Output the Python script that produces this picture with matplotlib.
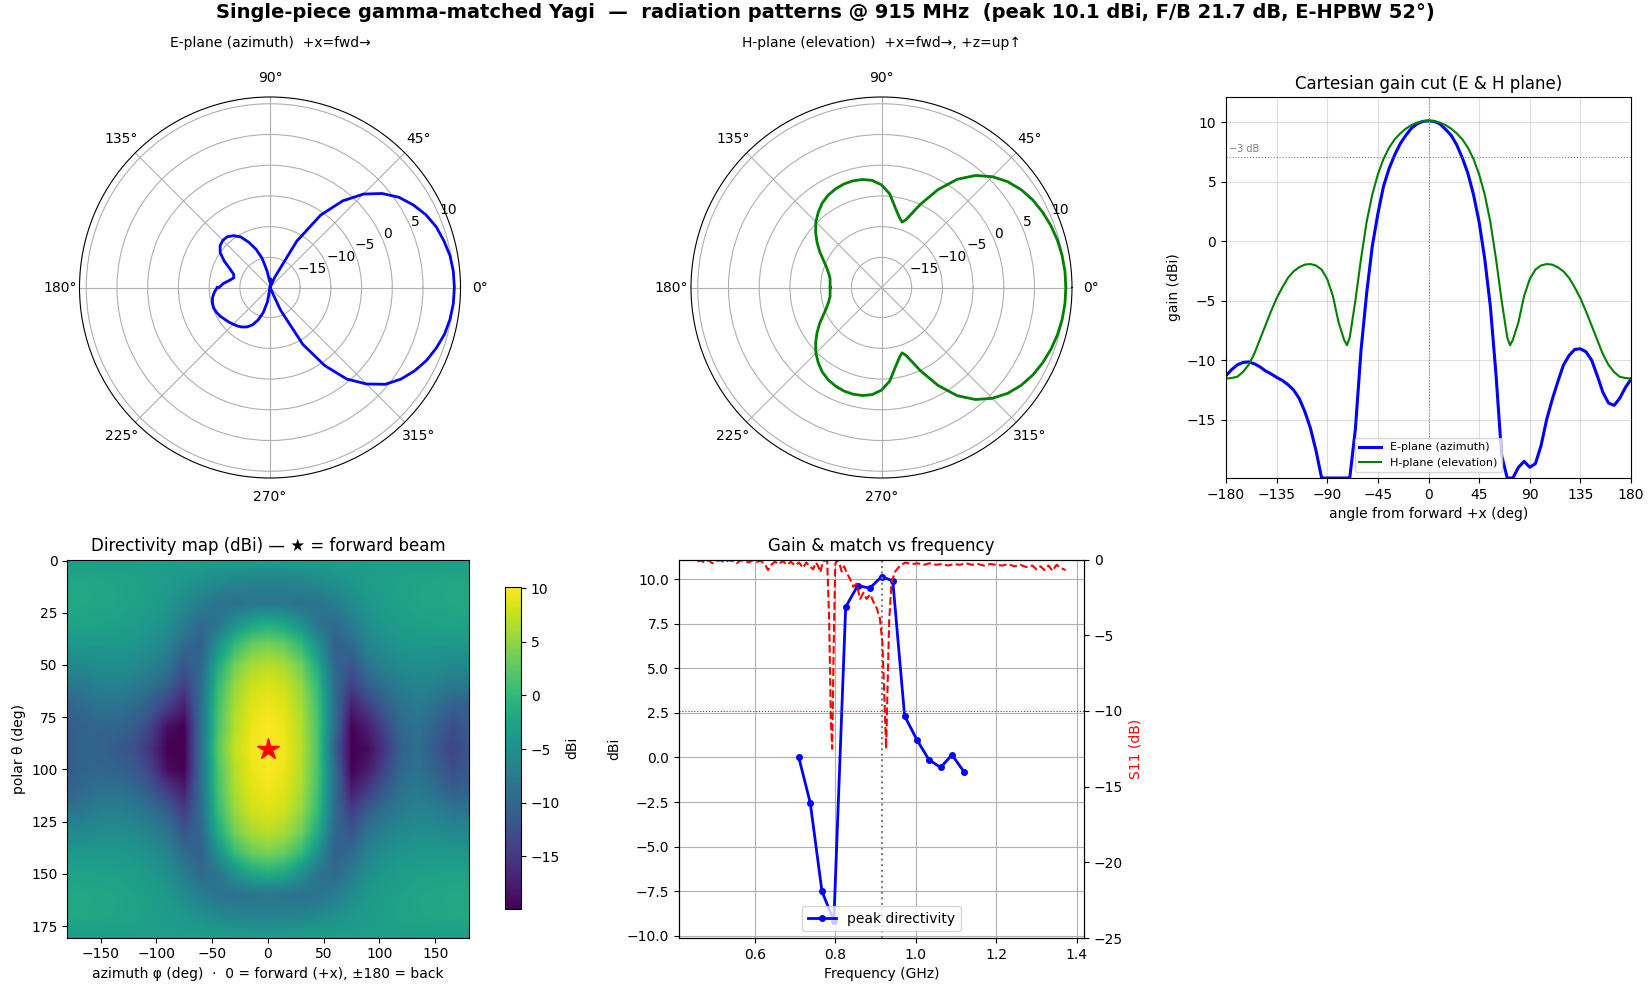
import numpy as np
import matplotlib
matplotlib.use("Agg")
import matplotlib.pyplot as plt

W, H = 1650, 990
PEAK = 10.1
FLOOR = PEAK - 30

# E-plane (azimuth) cut, -180..180 every 5 deg
e_ang = np.arange(-180, 181, 5)
e_gain = [-11.3, -10.8, -10.4, -10.2, -10.15, -10.3, -10.55, -10.9, -11.15, -11.45,
          -11.7, -12.05, -12.5, -13.2, -14.3, -15.7, -17.6, -19.9, -19.9, -19.9,
          -19.9, -19.9, -19.9, -15.8, -9.2, -4.4, -0.45, 2.3, 4.6, 6.1,
          7.25, 8.2, 8.9, 9.5, 9.85, 10.05, 10.1, 10.05, 9.85, 9.4,
          8.9, 8.1, 7.0, 5.7, 3.9, 1.6, -1.5, -5.5, -11.2, -18.0,
          -19.9, -19.9, -19.0, -18.5, -19.0, -18.7, -17.2, -15.0, -13.3, -11.8,
          -10.4, -9.6, -9.1, -9.05, -9.3, -10.0, -11.3, -12.7, -13.6, -13.8,
          -13.2, -12.3, -11.6]

# H-plane (elevation) cut, symmetric; 0..180 deg half
h_ang_half = [0, 5, 10, 15, 20, 25, 30, 35, 40, 45, 50, 55, 60, 65, 70, 72.5,
              75, 80, 85, 90, 95, 100, 105, 110, 115, 120, 125, 130, 135, 140,
              145, 150, 155, 160, 165, 170, 175, 180]
h_gain_half = [10.1, 10.07, 9.95, 9.75, 9.45, 9.05, 8.55, 7.85, 6.9, 5.6, 3.9, 1.6,
               -1.5, -5.0, -8.1, -8.75, -8.3, -6.8, -4.6, -3.2, -2.4, -2.05, -1.93,
               -1.98, -2.2, -2.55, -3.1, -3.9, -4.8, -5.9, -7.1, -8.3, -9.5, -10.4,
               -11.0, -11.4, -11.5, -11.55]

# directivity map, theta 0..90 every 10 deg (lower half mirrors), phi -180..180 every 15 deg
map_phi = np.arange(-180, 181, 15)
map_theta = np.arange(0, 181, 10)
map_upper = [
    [-3.2] * 25,
    [-2.05, -2.08, -2.2, -2.35, -2.55, -3.0, -3.4, -4.1, -4.75, -5.6, -6.25, -6.7, -6.8,
     -6.7, -6.25, -5.6, -4.75, -4.1, -3.4, -3.0, -2.55, -2.35, -2.2, -2.08, -2.05],
    [-1.98, -2.02, -2.14, -2.33, -2.64, -3.1, -3.98, -5.35, -7.33, -8.46, -8.9, -8.35, -8.1,
     -8.35, -8.9, -8.46, -7.33, -5.35, -3.98, -3.1, -2.64, -2.33, -2.14, -2.02, -1.98],
    [-2.55, -2.59, -2.71, -2.85, -3.21, -3.87, -4.96, -7.3, -9.5, -8.47, -4.96, -2.37, -1.5,
     -2.37, -4.96, -8.47, -9.5, -7.3, -4.96, -3.87, -3.21, -2.85, -2.71, -2.59, -2.55],
    [-3.9, -3.86, -3.77, -3.8, -4.2, -5.0, -6.3, -9.5, -10.7, -4.95, 0.21, 3.0, 3.9,
     3.0, 0.21, -4.95, -10.7, -9.5, -6.3, -5.0, -4.2, -3.8, -3.77, -3.86, -3.9],
    [-5.9, -5.73, -5.23, -5.05, -5.55, -6.6, -8.3, -11.85, -9.98, -1.84, 3.43, 6.08, 6.9,
     6.08, 3.43, -1.84, -9.98, -11.85, -8.3, -6.6, -5.55, -5.05, -5.23, -5.73, -5.9],
    [-8.3, -7.9, -6.9, -6.8, -7.45, -8.7, -10.8, -14.4, -9.35, 0.07, 5.28, 7.8, 8.55,
     7.8, 5.28, 0.07, -9.35, -14.4, -10.8, -8.7, -7.1, -6.4, -6.9, -7.9, -8.3],
    [-10.4, -9.45, -8.75, -8.7, -9.5, -11.25, -14.5, -17.4, -8.96, 1.0, 6.25, 8.7, 9.5,
     8.7, 6.25, 1.0, -8.96, -17.4, -14.5, -11.25, -8.55, -7.7, -9.05, -10.9, -10.4],
    [-11.2, -10.3, -10.0, -10.45, -11.35, -14.0, -19.0, -19.9, -9.05, 1.4, 6.65, 9.2, 10.0,
     9.2, 6.65, 1.4, -9.05, -19.9, -17.5, -13.6, -9.7, -8.65, -10.55, -12.8, -11.4],
    [-11.3, -10.2, -10.55, -11.45, -12.5, -15.7, -19.9, -19.9, -9.2, 2.3, 7.25, 9.5, 10.1,
     9.4, 7.0, 1.6, -10.8, -19.9, -19.0, -15.0, -10.4, -9.05, -11.3, -13.8, -11.6],
]

# peak directivity vs frequency
pk_f = [0.7095, 0.738, 0.767, 0.7966, 0.826, 0.856, 0.886, 0.915, 0.943, 0.9724,
        1.003, 1.033, 1.062, 1.090, 1.120]
pk_dbi = [0.0, -2.55, -7.5, -9.15, 8.44, 9.63, 9.49, 10.13, 9.9, 2.33,
          0.99, -0.13, -0.56, 0.15, -0.8]

# S11 sweep
s11_f = [0.4575, 0.465, 0.475, 0.485, 0.495, 0.505, 0.515, 0.525, 0.535, 0.545,
         0.555, 0.565, 0.575, 0.585, 0.595, 0.605, 0.615, 0.625, 0.633, 0.641,
         0.65, 0.66, 0.67, 0.68, 0.69, 0.70, 0.71, 0.72, 0.728, 0.737,
         0.745, 0.752, 0.758, 0.763, 0.769, 0.775, 0.780, 0.785, 0.789, 0.7925,
         0.796, 0.800, 0.805, 0.810, 0.816, 0.822, 0.829, 0.837, 0.845, 0.853,
         0.862, 0.870, 0.878, 0.887, 0.895, 0.903, 0.911, 0.917, 0.922, 0.9265,
         0.930, 0.934, 0.940, 0.949, 0.961, 0.974, 0.99, 1.005, 1.02, 1.035,
         1.05, 1.065, 1.08, 1.095, 1.11, 1.125, 1.14, 1.155, 1.17, 1.185,
         1.20, 1.215, 1.23, 1.245, 1.26, 1.275, 1.29, 1.30, 1.31, 1.32,
         1.33, 1.34, 1.35, 1.36, 1.3725]
s11_db = [-0.15, -0.05, -0.2, -0.05, -0.25, -0.1, -0.05, -0.2, -0.05, -0.1,
          -0.25, -0.05, -0.1, -0.2, -0.05, -0.15, -0.1, -0.3, -0.7, -0.35,
          -0.15, -0.3, -0.1, -0.35, -0.15, -0.4, -0.2, -0.55, -0.2, -0.45,
          -0.65, -0.2, -0.45, -0.85, -0.15, -0.05, -0.1, -4.0, -10.5, -12.5,
          -6.0, -0.3, -0.05, -0.2, -0.8, -0.45, -0.9, -1.3, -1.8, -1.6,
          -2.6, -2.2, -2.6, -2.3, -2.8, -3.2, -3.9, -5.4, -9.0, -12.5,
          -8.5, -4.1, -1.5, -0.8, -0.4, -0.2, -0.3, -0.25, -0.35, -0.25,
          -0.35, -0.3, -0.4, -0.3, -0.35, -0.25, -0.35, -0.3, -0.4, -0.3,
          -0.35, -0.4, -0.3, -0.45, -0.35, -0.5, -0.4, -0.65, -0.45, -0.7,
          -0.4, -0.75, -0.35, -0.55, -0.7]
f0 = 0.915


def px_rect(left, top, w, h):
    return [left / W, 1 - (top + h) / H, w / W, h / H]


h_ang = np.concatenate([-np.array(h_ang_half[::-1]), np.array(h_ang_half[1:])])
h_gain = np.concatenate([np.array(h_gain_half[::-1]), np.array(h_gain_half[1:])])
grid_map = np.array(map_upper + map_upper[-2::-1])

fig = plt.figure(figsize=(W / 100, H / 100), dpi=100)
fig.suptitle("Single-piece gamma-matched Yagi  \u2014  radiation patterns @ 915 MHz  "
             "(peak 10.1 dBi, F/B 21.7 dB, E-HPBW 52\u00b0)",
             fontsize=14, fontweight='bold', y=0.997)

# polar E-plane
axe = fig.add_axes(px_rect(67.5, 97, 405, 381), projection='polar')
axe.plot(np.deg2rad(e_ang), e_gain, color='b', lw=2)
axe.set_rlim(FLOOR, PEAK + 1)
axe.set_rticks([-15, -10, -5, 0, 5, 10])
axe.set_title("E-plane (azimuth)  +x=fwd\u2192", fontsize=10, pad=17)

# polar H-plane
axh = fig.add_axes(px_rect(679, 97, 405, 381), projection='polar')
axh.plot(np.deg2rad(h_ang), h_gain, color='g', lw=2)
axh.set_rlim(FLOOR, PEAK + 1)
axh.set_rticks([-15, -10, -5, 0, 5, 10])
axh.set_title("H-plane (elevation)  +x=fwd\u2192, +z=up\u2191", fontsize=10, pad=17)

# cartesian cut
axc = fig.add_axes(px_rect(1226, 97, 405, 381))
axc.plot(e_ang, e_gain, color='b', lw=2.2, label='E-plane (azimuth)')
axc.plot(h_ang, h_gain, color='g', lw=1.5, label='H-plane (elevation)')
axc.axhline(PEAK - 3, color='gray', ls=':', lw=0.8)
axc.axvline(0, color='gray', ls=':', lw=0.8)
axc.text(-177, PEAK - 3 + 0.35, "\u22123 dB", fontsize=7, color='gray')
axc.set_xlim(-180, 180)
axc.set_ylim(FLOOR, PEAK + 2)
axc.set_xticks(np.arange(-180, 181, 45))
axc.grid(alpha=0.4)
axc.set_xlabel("angle from forward +x (deg)")
axc.set_ylabel("gain (dBi)")
axc.set_title("Cartesian gain cut (E & H plane)")
axc.legend(loc='lower center', fontsize=8)

# directivity map
axm = fig.add_axes(px_rect(67.3, 559.5, 401.4, 378))
im = axm.imshow(grid_map, cmap='viridis', vmin=FLOOR, vmax=PEAK, aspect='auto',
                interpolation='bilinear',
                extent=[map_phi[0] - 7.5, map_phi[-1] + 7.5, map_theta[-1] + 5, map_theta[0] - 5])
axm.set_xlim(-180, 180)
axm.set_ylim(180.5, -0.5)
axm.set_yticks(np.arange(0, 180, 25))
axm.plot([0], [90], marker='*', color='r', ms=16)
axm.set_title("Directivity map (dBi) \u2014 \u2605 = forward beam")
axm.set_xlabel("azimuth \u03c6 (deg)  \u00b7  0 = forward (+x), \u00b1180 = back")
axm.set_ylabel("polar \u03b8 (deg)")
cax = fig.add_axes(px_rect(505, 587, 16, 322))
cb = fig.colorbar(im, cax=cax)
cb.set_label("dBi")

# gain & match vs frequency
axf = fig.add_axes(px_rect(679, 559.5, 405, 378.5))
axf.plot(pk_f, pk_dbi, 'b-', marker='o', ms=4, lw=2, label='peak directivity')
axf.axvline(f0, color='gray', ls=':', lw=1.5)
axf.grid(True)
axf.set_xlabel("Frequency (GHz)")
axf.set_ylabel("dBi")
axf.set_title("Gain & match vs frequency")
axf.legend(loc='lower center')
axs = axf.twinx()
axs.plot(s11_f, s11_db, 'r--', lw=1.5)
axs.axhline(-10, color='r', ls=':', lw=0.8)
axs.set_ylim(-25, 0)
axs.set_ylabel("S11 (dB)", color='r')

fig.savefig("out.png", dpi=100)
